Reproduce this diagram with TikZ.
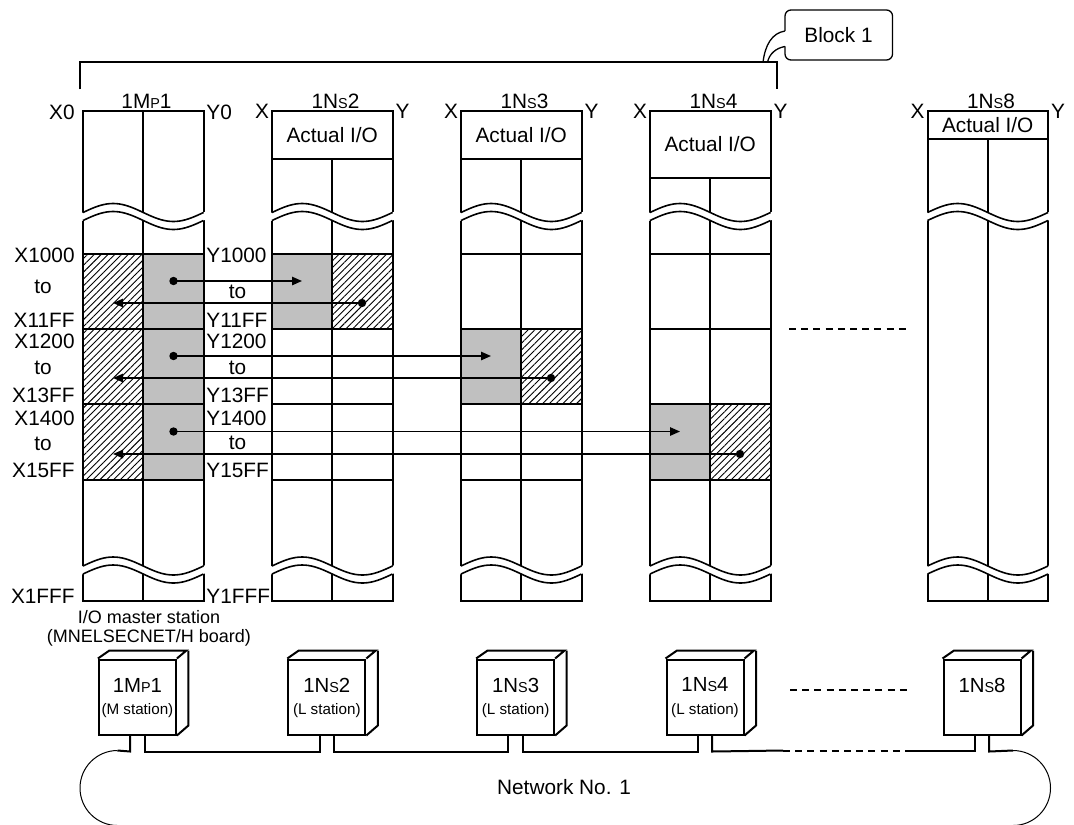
\documentclass[tikz,border=0pt]{standalone}
\usepackage{fontspec}
\setmainfont{Liberation Sans}
\usetikzlibrary{calc,arrows.meta,patterns.meta}
\definecolor{mapgray}{RGB}{192,192,192}
\newcommand{\subcap}[1]{{\fontsize{7.2}{8}\selectfont #1}}

\begin{document}
\begin{tikzpicture}[x=0.5pt,y=-0.5pt,
  txt/.style={font=\fontsize{10.4}{12}\selectfont,inner sep=0pt},
  frame/.style={line width=1pt},
  hatched/.style={pattern={Lines[angle=45,distance=2.4pt,line width=0.45pt]}},
  flow/.style={line width=0.75pt,-{Triangle[length=5pt,width=4.2pt]}},
  wavy/.style={line width=0.8pt},
  bus/.style={line width=1pt},
  gapline/.style={line width=1pt,dash pattern=on 3.5pt off 2.6pt}]
  \useasboundingbox (0,0) rectangle (1074,824);

  % block bracket and callout
  \draw[frame] (80,89.5) -- (80,62.5) -- (777,62.5) -- (777,89.5);
  \draw[line width=0.65pt,rounded corners=3pt] (785,31) -- (785,10) -- (892.5,10) -- (892.5,60) -- (785,60) -- (785,46.5);
  \draw[line width=0.65pt] (785,31) .. controls (772,33) and (765,45) .. (763,62.5);
  \draw[line width=0.65pt] (785,46.5) .. controls (776,48) and (769,54) .. (767.5,62.5);
  \node[txt] (blk) at (838.5,35) {Block 1};

  % shaded areas
  \fill[mapgray] (143,254) rectangle (203.5,480);
  \path[hatched] (83,254) rectangle (143,480);
  \foreach \cx/\ra/\rb in {272/254/329.3, 461/329.3/404.3, 650/404.3/480} {
    \fill[mapgray] (\cx,\ra) rectangle (\cx+60,\rb);
    \path[hatched] (\cx+60,\ra) rectangle (\cx+120.5,\rb);
  }

  % device map columns
  \foreach \cx/\cb in {83/111, 272/159, 461/159, 650/177.7, 927.5/139.3} {
    \draw[frame] (\cx,111) rectangle (\cx+120.5,601);
    \draw[frame] (\cx,\cb) -- (\cx+120.5,\cb);
    \draw[frame] (\cx+60,\cb) -- (\cx+60,601);
  }
  \foreach \cx in {83,272,461,650} {
    \foreach \ry in {254,329.3,404.3,480}
      \draw[frame] (\cx,\ry) -- (\cx+120.5,\ry);
  }

  % wave breaks
  \foreach \cx in {83,272,461,650,927.5} {
    \foreach \wy in {212.5,566} {
      \fill[white] plot[domain=-0.012:1.012,samples=41] ({\cx+120.5*\x},{\wy-9*sin(360*\x)})
        -- plot[domain=1.012:-0.012,samples=41] ({\cx+120.5*\x},{\wy+8-9*sin(360*\x)}) -- cycle;
      \draw[wavy] plot[domain=0:1,samples=41,smooth] ({\cx+120.5*\x},{\wy-9*sin(360*\x)});
      \draw[wavy] plot[domain=0:1,samples=41,smooth] ({\cx+120.5*\x},{\wy+8-9*sin(360*\x)});
    }
  }

  % transfer arrows
  \foreach \r/\ry/\sy/\dx in {1/281/303/302, 2/356/378/491, 3/431.5/454/680} {
    \coordinate (src\r) at (173.5,\ry);
    \coordinate (dst\r) at (\dx,\ry);
    \coordinate (back\r) at (\dx+60,\sy);
    \coordinate (home\r) at (113,\sy);
    \draw[flow] (src\r) -- (dst\r);
    \draw[flow] (back\r) -- (home\r);
    \fill (src\r) circle[radius=2.1pt];
    \fill (back\r) circle[radius=2.1pt];
  }

  % device ranges
  \foreach \n/\yy in {0/112, 1000/255, 11FF/320, 1200/341.7, 13FF/395, 1400/418.3, 15FF/470, 1FFF/596.7} {
    \node[txt,anchor=east] (x\n) at (75,\yy) {X\n};
    \node[txt,anchor=west] (y\n) at (206,\yy) {Y\n};
  }
  \foreach \r/\ya/\yb in {1/287/291.7, 2/368.3/367.7, 3/444/442.7} {
    \node[txt] (xto\r) at (43,\ya) {to};
    \node[txt] (yto\r) at (237.5,\yb) {to};
  }

  % column heads
  \node[txt] (head1) at (146.5,101.5) {1M\subcap{P}1};
  \foreach \cx/\s in {272/2, 461/3, 650/4, 927.5/8} {
    \node[txt] (head\s) at (\cx+63.5,101.5) {1N\subcap{S}\s};
    \node[txt] (colx\s) at (\cx-10,111.5) {X};
    \node[txt] (coly\s) at (\cx+130.5,111.5) {Y};
  }
  \foreach \s/\cx/\yy in {2/272/135, 3/461/135, 4/650/144.3, 8/927.5/125.2}
    \node[txt] (io\s) at (\cx+60.25,\yy) {Actual I/O};

  \draw[gapline] (789,329.3) -- (909.5,329.3);
  \draw[gapline] (790,690) -- (908,690);

  % stations
  \foreach \sx/\s in {137.4/1, 326.8/2, 515.6/3, 705/4, 982/8} {
    \node[draw,line width=1pt,minimum width=38.5pt,minimum height=37.5pt,inner sep=0pt] (st\s) at (\sx,697) {};
    \draw[frame] (st\s.north west) -- ++(11.5,-8) -- ++(77,0) -- (st\s.north east);
    \draw[frame] ($(st\s.north east)+(11.5,-8)$) -- ++(0,75) -- (st\s.south east);
  }
  \foreach \s/\nm in {1/1M\subcap{P}1, 2/1N\subcap{S}2, 3/1N\subcap{S}3, 4/1N\subcap{S}4, 8/1N\subcap{S}8}
    \node[font=\fontsize{10.2}{12}\selectfont,inner sep=0pt] (nm\s) at ($(st\s.center)+(0,-12)$) {\nm};
  \node[font=\fontsize{7.6}{9}\selectfont,inner sep=0pt] (ty1) at ($(st1.center)+(0,14)$) {(M station)};
  \foreach \s in {2,3,4}
    \node[font=\fontsize{7.6}{9}\selectfont,inner sep=0pt] (ty\s) at ($(st\s.center)+(0,14)$) {(L station)};
  \node[font=\fontsize{9}{9.5}\selectfont,align=center,inner sep=0pt] (master) at (149,628.5) {I/O master station\\(MNELSECNET/H board)};

  % network
  \coordinate (netL) at (117.5,750.5);
  \coordinate (netR) at (1013,750.5);
  \draw[bus] ($(st1.south)+(-7.2,0)$) -- ++(0,16) -- (netL);
  \foreach \a/\b in {1/2, 2/3, 3/4}
    \draw[bus] ($(st\a.south)+(7.2,0)$) -- ++(0,16) -| ($(st\b.south)+(-7.2,0)$);
  \draw[bus] ($(st4.south)+(7.2,0)$) -- ++(0,16) -- (783,750.5);
  \draw[gapline] (783,750.5) -- (911,750.5);
  \draw[bus] (911,750.5) -| ($(st8.south)+(-7.2,0)$);
  \draw[bus] ($(st8.south)+(7.2,0)$) -- ++(0,16) -- (netR);
  \draw[line width=0.5pt] (netL) arc[start angle=270,end angle=90,radius=37.5] -- ++(895.5,0) arc[start angle=90,end angle=-90,radius=37.5];
  \node[txt] (net) at (564,787.5) {Network No. 1};
\end{tikzpicture}
\end{document}
